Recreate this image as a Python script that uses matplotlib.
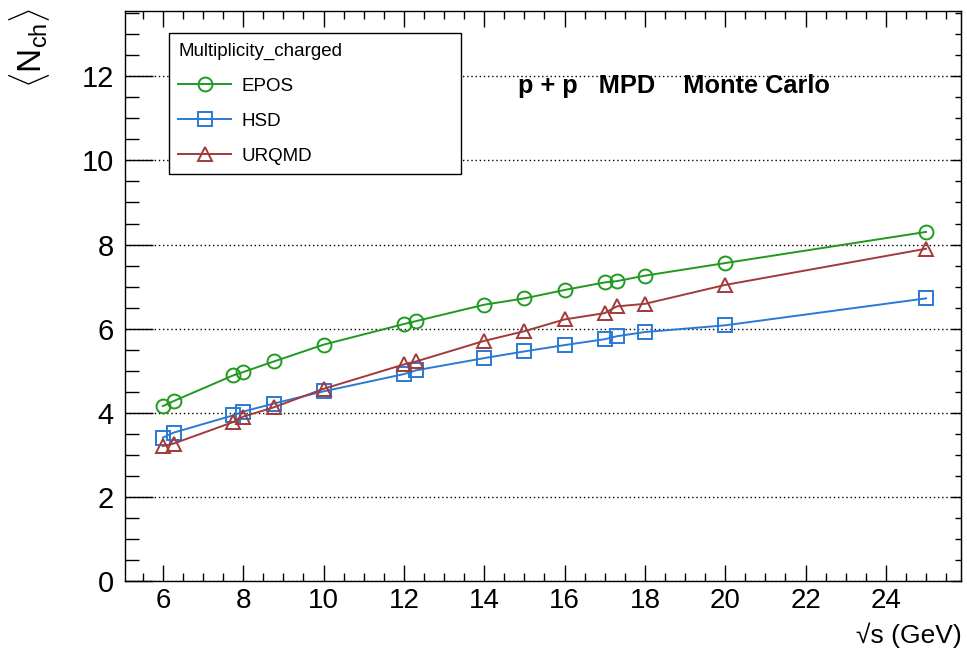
import matplotlib
matplotlib.use('Agg')
import matplotlib.pyplot as plt
from matplotlib.ticker import MultipleLocator

plt.rcParams['font.family'] = ['Liberation Sans', 'DejaVu Sans']
plt.rcParams['mathtext.fontset'] = 'custom'
plt.rcParams['mathtext.rm'] = 'Liberation Sans'
plt.rcParams['mathtext.it'] = 'Liberation Sans'

# sqrt(s) in GeV
energy = [6, 6.27, 7.75, 8, 8.76, 10, 12, 12.3, 14, 15, 16, 17, 17.3, 18, 20, 25]
epos = [4.16, 4.28, 4.89, 4.97, 5.22, 5.62, 6.11, 6.18, 6.57, 6.72, 6.92, 7.10, 7.13, 7.26, 7.56, 8.30]
hsd = [3.41, 3.53, 3.94, 4.03, 4.22, 4.51, 4.92, 5.01, 5.30, 5.46, 5.61, 5.75, 5.82, 5.92, 6.08, 6.72]
urqmd = [3.21, 3.27, 3.78, 3.91, 4.13, 4.57, 5.15, 5.22, 5.71, 5.94, 6.22, 6.37, 6.53, 6.59, 7.04, 7.90]

fig = plt.figure(figsize=(9.67, 6.5), dpi=100)
ax = fig.add_axes([0.129, 0.106, 0.8648, 0.877])

mk = dict(ms=10, mfc='none', mew=1.4, lw=1.4)
l1, = ax.plot(energy, epos, '-o', color='#1f9a1f', label='EPOS', **mk)
l2, = ax.plot(energy, hsd, '-s', color='#2a7ad5', label='HSD', **mk)
l3, = ax.plot(energy, urqmd, '-^', color='#a33a3a', label='URQMD', **mk)

ax.set_xlim(5.05, 25.87)
ax.set_ylim(0, 13.55)
ax.xaxis.set_major_locator(MultipleLocator(2))
ax.xaxis.set_minor_locator(MultipleLocator(0.5))
ax.yaxis.set_major_locator(MultipleLocator(2))
ax.yaxis.set_minor_locator(MultipleLocator(0.5))

ax.tick_params(axis='x', which='both', direction='in', top=True, labelsize=20, pad=5)
ax.tick_params(axis='x', which='major', length=11.5, width=1)
ax.tick_params(axis='x', which='minor', length=5.5, width=1)
ax.tick_params(axis='y', which='both', direction='in', right=False, labelsize=21, pad=8)
ax.tick_params(axis='y', which='major', length=20, width=1)
ax.tick_params(axis='y', which='minor', length=10, width=1)

sec = ax.secondary_yaxis('right')
sec.yaxis.set_major_locator(MultipleLocator(2))
sec.yaxis.set_minor_locator(MultipleLocator(0.5))
sec.tick_params(which='both', direction='in', labelright=False)
sec.tick_params(which='major', length=7, width=1)
sec.tick_params(which='minor', length=4, width=1)

for s in ax.spines.values():
    s.set_linewidth(1)

ax.yaxis.grid(True, which='major', color='k', linestyle=(0, (1, 2)), lw=1)
ax.set_axisbelow(True)

leg = ax.legend(handles=[l1, l2, l3], title='Multiplicity_charged', loc='upper left',
                bbox_to_anchor=(0.053, 0.961, 0.349, 0), mode='expand', borderaxespad=0,
                fontsize=13.5, title_fontsize=13.5, alignment='left', fancybox=False,
                framealpha=1, edgecolor='k', borderpad=0.5, labelspacing=0.95,
                handlelength=2.8, handletextpad=0.55)
leg.get_frame().set_linewidth(1)

ax.text(0.470, 0.868, 'p + p   MPD    Monte Carlo', transform=ax.transAxes,
        fontsize=18.3, fontweight='bold', ha='left', va='center')

fig.text(30 / 967, 1 - 8 / 650, r'$\langle\mathrm{N}_{\mathrm{ch}}\rangle$', rotation=90,
         fontsize=24, ha='center', va='top')
fig.text(962 / 967, 1.5 / 650, '\u221as (GeV)', fontsize=19, ha='right', va='bottom')

fig.savefig('out.png', dpi=100)
